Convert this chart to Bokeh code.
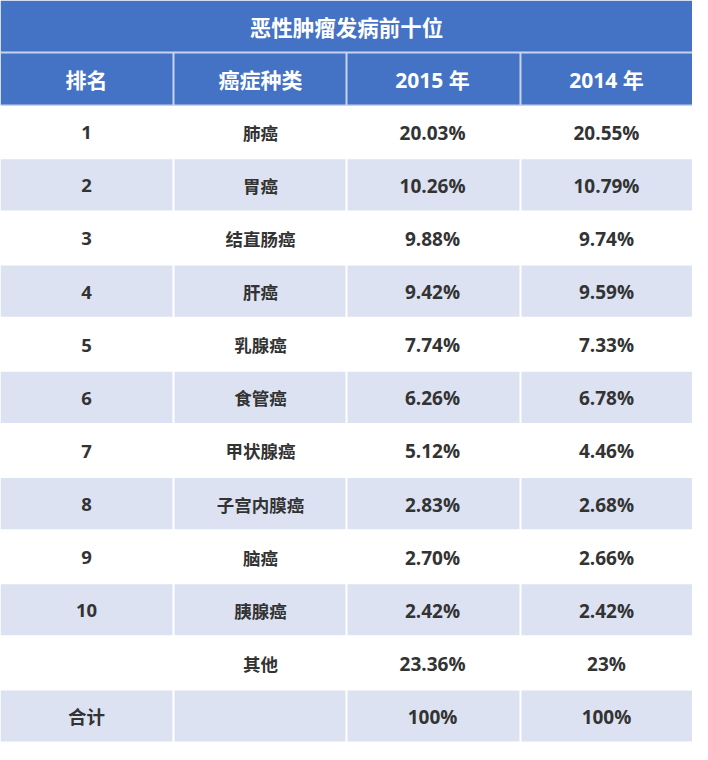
from bokeh.plotting import figure
from bokeh.models import Range1d, ColumnDataSource
from bokeh.core.properties import value
from bokeh.embed import file_html
from bokeh.resources import INLINE

title = "恶性肿瘤发病前十位"
headers = ["排名", "癌症种类", "2015 年", "2014 年"]
ranks = ["1", "2", "3", "4", "5", "6", "7", "8", "9", "10", "", "合计"]
types = ["肺癌", "胃癌", "结直肠癌", "肝癌", "乳腺癌", "食管癌", "甲状腺癌",
         "子宫内膜癌", "脑癌", "胰腺癌", "其他", ""]
v2015 = ["20.03%", "10.26%", "9.88%", "9.42%", "7.74%", "6.26%", "5.12%",
         "2.83%", "2.70%", "2.42%", "23.36%", "100%"]
v2014 = ["20.55%", "10.79%", "9.74%", "9.59%", "7.33%", "6.78%", "4.46%",
         "2.68%", "2.66%", "2.42%", "23%", "100%"]

# layout (in reference pixel units)
W, H = 708, 760
col_edges = [0, 177, 354, 532, 708]
title_top, title_bot = 0, 53
head_top, head_bot = 53, 107
row_h = (758 - 107) / 12.0

BLUE = "#4472C4"
STRIPE = "#DCE2F2"
SEP = "#C8D4EE"
TXT = "#333333"
FONT = "Open Sans, Noto Sans CJK SC"

p = figure(width=692, height=744, output_backend="svg", toolbar_location=None,
           x_range=Range1d(0, W), y_range=Range1d(H, 0), min_border=0,
           background_fill_color="white", border_fill_color="white")
p.axis.visible = False
p.grid.visible = False
p.outline_line_color = None

# header background
p.quad(left=[0], right=[W], top=[title_top], bottom=[head_bot], fill_color=BLUE, line_color=None)
# separators in header
p.segment(x0=[0], y0=[title_bot], x1=[W], y1=[title_bot], line_color=SEP, line_width=2)
p.segment(x0=[0], y0=[head_bot], x1=[W], y1=[head_bot], line_color=SEP, line_width=1.5)
p.segment(x0=col_edges[1:4], y0=[head_top] * 3, x1=col_edges[1:4], y1=[head_bot] * 3,
          line_color=SEP, line_width=2)

# data rows
n = len(ranks)
tops = [head_bot + i * row_h for i in range(n)]
bots = [t + row_h for t in tops]
stripe_idx = [i for i in range(n) if i % 2 == 1]
p.quad(left=[0] * len(stripe_idx), right=[W] * len(stripe_idx),
       top=[tops[i] + 1 for i in stripe_idx], bottom=[bots[i] - 1 for i in stripe_idx],
       fill_color=STRIPE, line_color=None)
vx0, vy0, vx1, vy1 = [], [], [], []
for i in stripe_idx:
    for x in col_edges[1:4]:
        vx0.append(x); vx1.append(x); vy0.append(tops[i]); vy1.append(bots[i])
p.segment(x0=vx0, y0=vy0, x1=vx1, y1=vy1, line_color="white", line_width=2)

# title text
p.text(x=[W / 2], y=[(title_top + title_bot) / 2 + 1], text=[title],
       text_font=value(FONT), text_font_size="21.5px", text_font_style="bold",
       text_color="white", text_align="center", text_baseline="middle")

# header text
centers = [88, 266, 442, 620]
p.text(x=centers, y=[(head_top + head_bot) / 2 + 1] * 4, text=headers,
       text_font=value(FONT), text_font_size="21px", text_font_style="bold",
       text_color="white", text_align="center", text_baseline="middle")

# body text
src = ColumnDataSource(dict(
    y=[(tops[i] + bots[i]) / 2 + 1 for i in range(n)],
    rank=ranks, typ=types, a=v2015, b=v2014))
for col, x, fs in zip(["rank", "typ", "a", "b"], [88, 266, 442, 620],
                      ["18.5px", "17.5px", "19px", "19px"]):
    p.text(x=x, y="y", text=col, source=src,
           text_font=value(FONT), text_font_size=fs, text_font_style="bold",
           text_color=TXT, text_align="center", text_baseline="middle")

open("out.html", "w").write(file_html(p, INLINE))
